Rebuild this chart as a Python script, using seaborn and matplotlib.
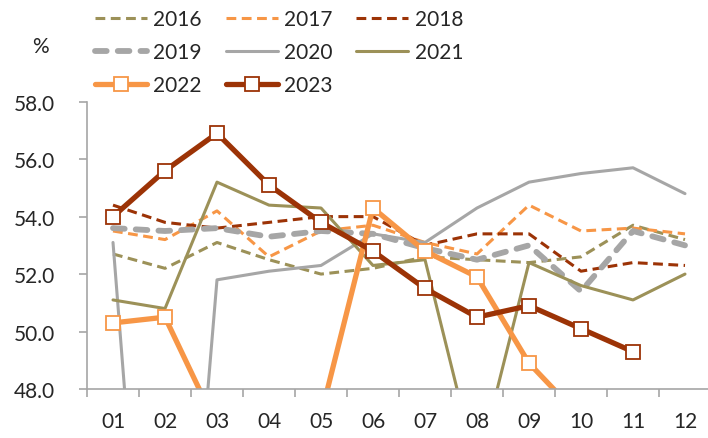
import matplotlib
matplotlib.use("Agg")
import matplotlib.pyplot as plt
import seaborn as sns
import numpy as np
import pandas as pd

months = ["01", "02", "03", "04", "05", "06", "07", "08", "09", "10", "11", "12"]

pmi_2016 = [52.7, 52.2, 53.1, 52.5, 52.0, 52.2, 52.6, 52.5, 52.4, 52.6, 53.7, 53.2]
pmi_2017 = [53.5, 53.2, 54.2, 52.6, 53.5, 53.7, 53.1, 52.7, 54.4, 53.5, 53.6, 53.4]
pmi_2018 = [54.4, 53.8, 53.6, 53.8, 54.0, 54.0, 53.0, 53.4, 53.4, 52.1, 52.4, 52.3]
pmi_2019 = [53.6, 53.5, 53.6, 53.3, 53.5, 53.4, 52.9, 52.5, 53.0, 51.4, 53.5, 53.0]
pmi_2020 = [53.1, 30.1, 51.8, 52.1, 52.3, 53.4, 53.1, 54.3, 55.2, 55.5, 55.7, 54.8]
pmi_2021 = [51.1, 50.8, 55.2, 54.4, 54.3, 52.3, 52.5, 45.2, 52.4, 51.6, 51.1, 52.0]
pmi_2022 = [50.3, 50.5, 46.7, 40.0, 47.1, 54.3, 52.8, 51.9, 48.9, 47.0, 45.1, 39.4]
pmi_2023 = [54.0, 55.6, 56.9, 55.1, 53.8, 52.8, 51.5, 50.5, 50.9, 50.1, 49.3]

OLIVE = "#9c9158"
ORANGE = "#f79646"
BROWN = "#9c3306"
GRAY = "#a6a6a6"

# year -> (values, colour, linewidth, dash, marker)
series = {
    "2016": (pmi_2016, OLIVE, 2.2, (0, (3.2, 1.8)), None),
    "2017": (pmi_2017, ORANGE, 2.2, (0, (3.2, 1.8)), None),
    "2018": (pmi_2018, BROWN, 2.2, (0, (3.2, 1.8)), None),
    "2019": (pmi_2019, GRAY, 4.2, (0, (2.0, 1.9)), None),
    "2020": (pmi_2020, GRAY, 2.2, "-", None),
    "2021": (pmi_2021, OLIVE, 2.2, "-", None),
    "2022": (pmi_2022, ORANGE, 3.8, "-", "s"),
    "2023": (pmi_2023, BROWN, 3.8, "-", "s"),
}

sns.set_theme(style="white")
plt.rcParams["font.family"] = ["Lato", "DejaVu Sans"]

fig = plt.figure(figsize=(7.08, 4.39), dpi=100)
ax = fig.add_axes([87 / 708, 49 / 439, 624 / 708, 287.3 / 439])

for year, (vals, color, lw, ls, marker) in series.items():
    df = pd.DataFrame({"month": np.arange(1, len(vals) + 1), "value": vals})
    sns.lineplot(data=df, x="month", y="value", ax=ax, color=color,
                 linewidth=lw, linestyle=ls, label=year, sort=False,
                 marker=marker, markersize=10, markerfacecolor="white",
                 markeredgecolor=color, markeredgewidth=1.3,
                 dash_capstyle="round" if year == "2019" else "butt")

ax.set_xlim(0.5, 12.5)
ax.set_ylim(48, 58)
ax.set_yticks(np.arange(48, 58.1, 2))
ax.set_yticklabels([f"{v:.1f}" for v in np.arange(48, 58.1, 2)])
ax.set_xticks(np.arange(1, 13))
ax.set_xticklabels(months)
ax.set_xticks(np.arange(0.5, 12.6, 1), minor=True)
ax.set_xlabel("")
ax.set_ylabel("")

for s in ["top", "right"]:
    ax.spines[s].set_visible(False)
for s in ["left", "bottom"]:
    ax.spines[s].set_color("#a6a6a6")
    ax.spines[s].set_linewidth(1.2)

ax.tick_params(axis="y", direction="out", length=6, width=1.2, color="#a6a6a6",
               pad=17, labelsize=15, left=True)
ax.tick_params(axis="x", which="major", length=0, pad=16, labelsize=15)
ax.tick_params(axis="x", which="minor", direction="out", length=6, width=1.2,
               color="#a6a6a6", bottom=True)

# legend reads row by row, matplotlib fills column by column
ax.get_legend().remove()
handles, labels = ax.get_legend_handles_labels()
order = [0, 3, 6, 1, 4, 7, 2, 5]
fig.legend([handles[i] for i in order], [labels[i] for i in order],
           loc="upper left", bbox_to_anchor=(76 / 708, 1.02),
           ncol=3, frameon=False, fontsize=15, handlelength=2.5,
           handletextpad=0.3, columnspacing=1.15, labelspacing=0.62)

fig.text(40 / 708, 1 - 47 / 439, "%", fontsize=15, ha="center", va="center")

fig.savefig("out.png", dpi=100)
